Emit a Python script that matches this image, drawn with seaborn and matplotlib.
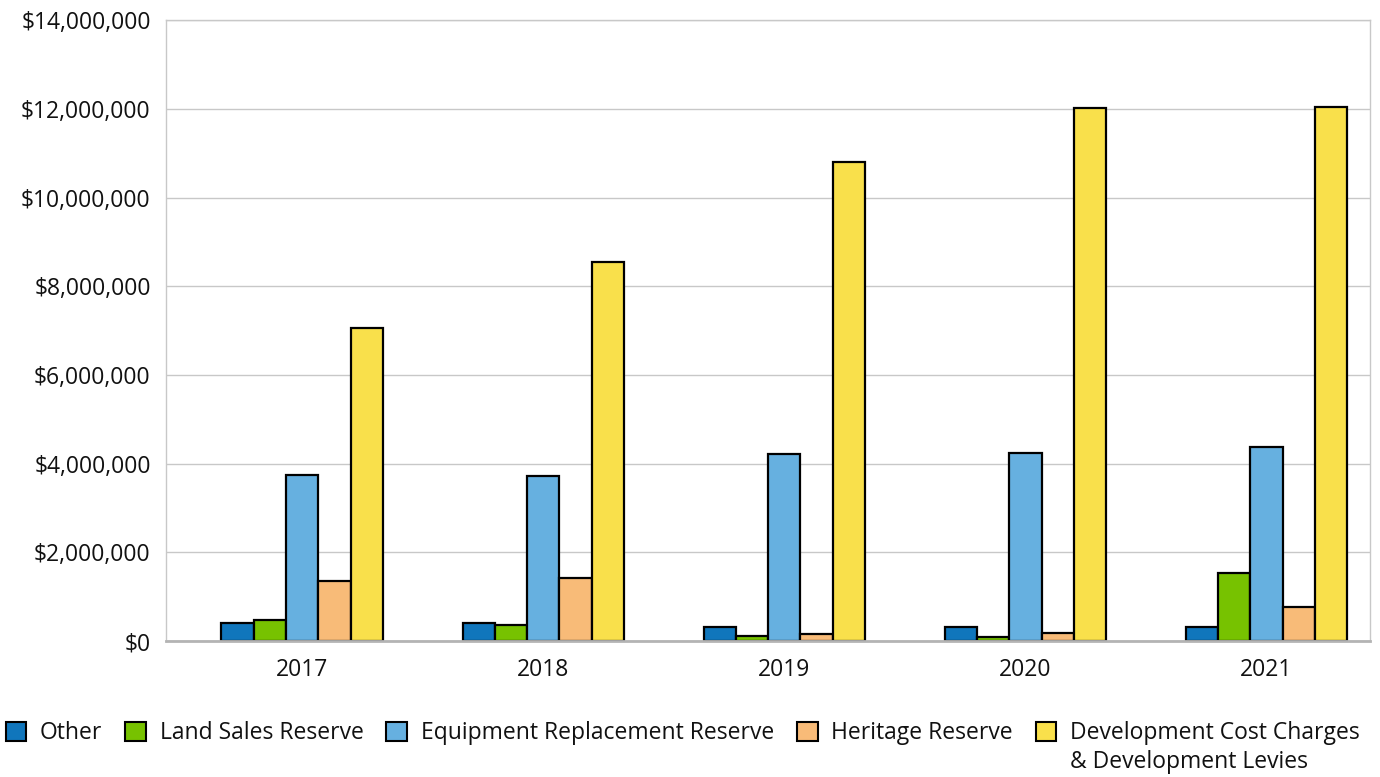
import matplotlib
matplotlib.use("Agg")
import matplotlib.pyplot as plt
import matplotlib.ticker as mticker
from matplotlib.patches import Patch
import pandas as pd
import seaborn as sns

years = ["2017", "2018", "2019", "2020", "2021"]
series = [
    "Other",
    "Land Sales Reserve",
    "Equipment Replacement Reserve",
    "Heritage Reserve",
    "Development Cost Charges\n& Development Levies",
]
other = [400000, 410000, 320000, 320000, 320000]
land_sales = [470000, 360000, 110000, 100000, 1540000]
equipment = [3740000, 3720000, 4220000, 4240000, 4370000]
heritage = [1350000, 1420000, 165000, 170000, 770000]
dcc = [7060000, 8540000, 10810000, 12020000, 12050000]
colors = ["#1076BC", "#77C200", "#66B0E0", "#F8BB78", "#F9E04B"]

values = [other, land_sales, equipment, heritage, dcc]
df = pd.DataFrame(
    [(y, s, v[i]) for s, v in zip(series, values) for i, y in enumerate(years)],
    columns=["Year", "Fund", "Amount"],
)

sns.set_theme(style="white")
plt.rcParams["font.family"] = ["Open Sans", "DejaVu Sans"]

fig = plt.figure(figsize=(13.8, 7.77), dpi=100)
ax = fig.add_axes([0.1203, 0.175, 0.8725, 0.799])

sns.barplot(
    data=df, x="Year", y="Amount", hue="Fund", hue_order=series,
    palette=colors, width=0.67, edgecolor="black", linewidth=1.6,
    saturation=1, legend=False, ax=ax,
)

ax.set_xlim(-0.565, 4.43)
ax.set_ylim(0, 14000000)
ax.yaxis.set_major_locator(mticker.MultipleLocator(2000000))
ax.yaxis.set_major_formatter(mticker.FuncFormatter(lambda v, p: f"${v:,.0f}"))
ax.grid(axis="y", color="#c8c8c8", linewidth=1)
ax.set_axisbelow(True)
for side in ["left", "top", "right"]:
    ax.spines[side].set_color("#c8c8c8")
    ax.spines[side].set_linewidth(1)
ax.spines["bottom"].set_color("#b4b4b4")
ax.spines["bottom"].set_linewidth(2)
ax.set_xlabel("")
ax.set_ylabel("")
ax.tick_params(axis="both", length=0, labelsize=16.5, colors="#111111")
ax.tick_params(axis="y", pad=11)
ax.tick_params(axis="x", pad=12)

# Legend: one row, the long last entry wraps onto a second line below it
first_lines = [s.split("\n")[0] for s in series]
handles = [Patch(facecolor=c, edgecolor="black", linewidth=1.5) for c in colors]
leg = fig.legend(
    handles, first_lines, loc="center left", bbox_to_anchor=(0.004, 0.0565),
    ncol=5, frameon=False, fontsize=16.5, handlelength=0.9, handleheight=0.9,
    handletextpad=0.6, columnspacing=1.0, borderaxespad=0, borderpad=0,
    labelcolor="#111111",
)
fig.canvas.draw()
last = leg.get_texts()[-1]
bb = last.get_window_extent().transformed(fig.transFigure.inverted())
fig.text(bb.x0, bb.y0 - 0.006, series[-1].split("\n")[1], ha="left", va="top",
         fontsize=16.5, color="#111111")

fig.savefig("out.png", dpi=100)
